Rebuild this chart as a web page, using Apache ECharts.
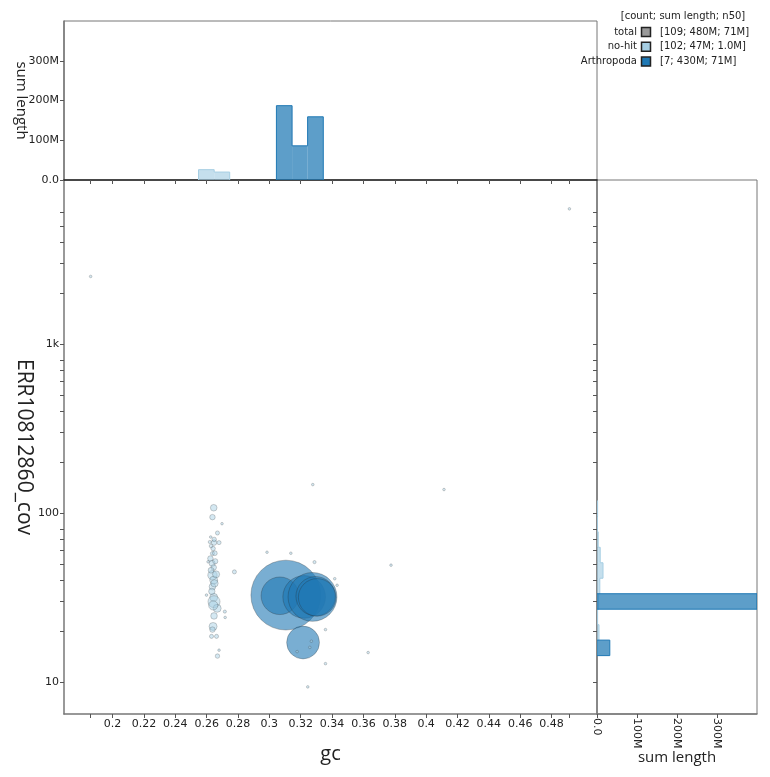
<!DOCTYPE html>
<html>
<head>
<meta charset="utf-8">
<title>blob plot</title>
<script src="https://cdn.jsdelivr.net/npm/echarts@6/dist/echarts.min.js"></script>
<style>
  html, body { margin: 0; padding: 0; background: #fff; }
  #chart { width: 770px; height: 777px; }
</style>
</head>
<body>
<div id="chart"></div>
<script>
// axis ranges
const gcMin = 0.169, gcMax = 0.509;
const covMin = 6.5, covMax = 9330;
const lenMax = 4e8;

// ticks and labels
const gcTicks = [0.186, 0.2, 0.22, 0.24, 0.26, 0.28, 0.3, 0.32, 0.34, 0.36, 0.38, 0.4, 0.42, 0.44, 0.46, 0.48, 0.4914];
const gcLabels = [0.2, 0.22, 0.24, 0.26, 0.28, 0.3, 0.32, 0.34, 0.36, 0.38, 0.4, 0.42, 0.44, 0.46, 0.48];
const covTicks = [10, 20, 30, 40, 50, 60, 70, 80, 100, 200, 300, 400, 500, 600, 700, 800, 1000, 2000, 3000, 4000, 5000, 6000];
const covLabels = [10, 100, 1000];
const lenTicks = [0, 1e8, 2e8, 3e8];

// no-hit contigs (gc, coverage, length in Mb)
const noHitGc = [0.2645, 0.2637, 0.2698, 0.2669, 0.2626, 0.2647, 0.2679, 0.262, 0.2641, 0.2637,
  0.2624, 0.2635, 0.2609, 0.2645, 0.2637, 0.2645, 0.2777, 0.2637, 0.2599, 0.2645,
  0.2647, 0.2667, 0.2716, 0.2718, 0.2647, 0.2641, 0.2637, 0.2631, 0.2663, 0.2679,
  0.2669, 0.2652, 0.2628, 0.2655, 0.265, 0.2633, 0.266, 0.2642, 0.2628, 0.2648,
  0.2985, 0.3137, 0.3288, 0.3417, 0.3432, 0.3358, 0.3268, 0.3258, 0.3177, 0.3358,
  0.363, 0.3277, 0.4114, 0.3776, 0.3245, 0.186, 0.4914];
const noHitCov = [107.7, 94.8, 86.7, 76.4, 72.3, 67, 67, 67.6, 61.8, 57.8,
  54, 50.5, 51.6, 47.8, 43, 40.2, 45, 36.8, 32.8, 31.8,
  30, 27.4, 26.2, 24.2, 24.7, 21.4, 20.5, 18.7, 18.7, 15.5,
  14.3, 58, 46, 52, 38.5, 34.5, 43.5, 28.5, 64, 70,
  58.8, 58, 51.4, 41, 37.5, 20.5, 17.5, 16.1, 15.2, 12.9,
  15, 147.6, 138, 49.3, 9.4, 2510, 6300];
const noHitLen = [1.3, 0.9, 0.2, 0.5, 0.2, 0.9, 0.5, 0.3, 0.6, 0.5,
  0.9, 1.1, 0.2, 0.9, 2.6, 1.9, 0.5, 1.3, 0.2, 1.9,
  4.3, 1.9, 0.3, 0.2, 1.3, 1.9, 0.9, 0.5, 0.5, 0.2,
  0.6, 0.7, 1.0, 0.8, 1.6, 1.2, 1.5, 2.5, 0.4, 0.6,
  0.15, 0.1, 0.3, 0.2, 0.2, 0.2, 0.2, 0.2, 0.15, 0.2,
  0.1, 0.15, 0.1, 0.1, 0.1, 0.1, 0.1];

// Arthropoda contigs
const arthGc = [0.3105, 0.3067, 0.3215, 0.3222, 0.3275, 0.3295, 0.3305];
const arthCov = [32.8, 32.5, 17.2, 32, 32, 32.3, 31.8];
const arthLen = [145, 42, 32, 54, 71, 46, 42];

// histogram bins (sum length in Mb)
const gcBinEdges = [0.2548, 0.2648, 0.2747, 0.2847, 0.2946, 0.3045, 0.3145, 0.3244, 0.3344];
const noHitGcSum = [26, 20, 0, 0, 0, 0, 0, 0];
const arthGcSum = [0, 0, 0, 0, 0, 187, 86, 159];
const covBinEdges = [14.39, 17.77, 21.93, 27.07, 33.42, 41.26, 50.93, 62.87, 77.6, 95.8, 118.3];
const noHitCovSum = [1, 5, 1.5, 4, 7, 15, 8, 3, 1, 1.5];
const arthCovSum = [32, 0, 0, 400, 0, 0, 0, 0, 0, 0];

// legend
const legendNames = ['total', 'no-hit', 'Arthropoda'];
const legendColors = ['#999999', '#a6cee3', '#1f78b4'];
const legendStats = ['[109; 480M; 71M]', '[102; 47M; 1.0M]', '[7; 430M; 71M]'];

const tickFont = 'DejaVu Sans';
const titleFont = 'Open Sans';
const axisGray = '#777';

function lenLabel(v) {
  return v === 0 ? '0.0' : (v / 1e6) + 'M';
}

function covLabel(v) {
  return v >= 1000 ? (v / 1000) + 'k' : String(v);
}

// stepped histogram drawn from bin edges; horizontal = bars grow along x
function histSeries(edges, sums, fill, stroke, xi, yi, horizontal) {
  const data = [];
  for (let i = 0; i < sums.length; i++) {
    if (sums[i] > 0) data.push([edges[i], edges[i + 1], sums[i] * 1e6, i]);
  }
  return {
    type: 'custom',
    xAxisIndex: xi,
    yAxisIndex: yi,
    silent: true,
    clip: true,
    data: data,
    encode: horizontal ? { x: 2, y: [0, 1] } : { x: [0, 1], y: 2 },
    renderItem: function (params, api) {
      const lo = api.value(0), hi = api.value(1), v = api.value(2), i = api.value(3);
      const prev = i > 0 ? sums[i - 1] * 1e6 : 0;
      const next = i < sums.length - 1 ? sums[i + 1] * 1e6 : 0;
      const pt = horizontal
        ? function (b, h) { return api.coord([h, b]); }
        : function (b, h) { return api.coord([b, h]); };
      const a = pt(lo, 0), c = pt(hi, v);
      const outline = [pt(lo, Math.min(prev, v)), pt(lo, v), pt(hi, v), pt(hi, Math.min(next, v))];
      return {
        type: 'group',
        children: [
          {
            type: 'rect',
            shape: {
              x: Math.min(a[0], c[0]), y: Math.min(a[1], c[1]),
              width: Math.abs(c[0] - a[0]), height: Math.abs(c[1] - a[1])
            },
            style: { fill: fill }
          },
          {
            type: 'polyline',
            shape: { points: outline },
            style: { fill: null, stroke: stroke, lineWidth: 1 }
          }
        ]
      };
    }
  };
}

const tickStyle = { color: '#222', fontFamily: tickFont, fontSize: 11 };

const legendGraphics = [{
  type: 'text', x: 683, y: 16,
  style: { text: '[count; sum length; n50]', font: '10px "DejaVu Sans"', fill: '#222',
    textAlign: 'center', textVerticalAlign: 'middle', align: 'center', verticalAlign: 'middle' }
}];
legendNames.forEach(function (name, i) {
  const cy = 32 + i * 14.8;
  legendGraphics.push({
    type: 'text', x: 637, y: cy,
    style: { text: name, font: '10px "DejaVu Sans"', fill: '#222',
      textAlign: 'right', textVerticalAlign: 'middle', align: 'right', verticalAlign: 'middle' }
  });
  legendGraphics.push({
    type: 'rect', shape: { x: 641.5, y: cy - 4.5, width: 9, height: 9 },
    style: { fill: legendColors[i], stroke: '#222', lineWidth: 1.5 }
  });
  legendGraphics.push({
    type: 'text', x: 660, y: cy,
    style: { text: legendStats[i], font: '10px "DejaVu Sans"', fill: '#222',
      textAlign: 'left', textVerticalAlign: 'middle', align: 'left', verticalAlign: 'middle' }
  });
});

const chart = echarts.init(document.getElementById('chart'));
chart.setOption({
  animation: false,
  backgroundColor: '#fff',
  grid: [
    { left: 64, top: 180, width: 533, height: 534, outerBoundsMode: 'none', containLabel: false },
    { left: 64, top: 21, width: 533, height: 159, outerBoundsMode: 'none', containLabel: false,
      show: true, borderColor: axisGray, borderWidth: 1 },
    { left: 597, top: 180, width: 160, height: 534, outerBoundsMode: 'none', containLabel: false,
      show: true, borderColor: axisGray, borderWidth: 1 }
  ],
  xAxis: [
    {
      gridIndex: 0, type: 'value', min: gcMin, max: gcMax,
      name: 'gc', nameLocation: 'middle', nameGap: 30, nameMoveOverlap: false,
      nameTextStyle: { fontFamily: titleFont, fontSize: 20, color: '#222' },
      axisLine: { lineStyle: { color: axisGray, width: 1.5 } },
      axisTick: { customValues: gcTicks, length: 4, lineStyle: { color: '#555' } },
      axisLabel: Object.assign({ customValues: gcLabels, margin: 5,
        formatter: function (v) { return String(Math.round(v * 100) / 100); } }, tickStyle),
      splitLine: { show: false }
    },
    {
      gridIndex: 1, type: 'value', min: gcMin, max: gcMax,
      axisLine: { lineStyle: { color: '#222', width: 1.5 } },
      axisTick: { customValues: gcTicks, length: 4, lineStyle: { color: '#555' } },
      axisLabel: { show: false },
      splitLine: { show: false }
    },
    {
      gridIndex: 2, type: 'value', min: 0, max: lenMax,
      name: 'sum length', nameLocation: 'middle', nameGap: 36, nameMoveOverlap: false,
      nameTextStyle: { fontFamily: titleFont, fontSize: 15, color: '#222' },
      axisLine: { lineStyle: { color: axisGray, width: 1.5 } },
      axisTick: { customValues: lenTicks, length: 4, lineStyle: { color: '#555' } },
      axisLabel: Object.assign({ customValues: lenTicks, rotate: -90, margin: 4, formatter: lenLabel }, tickStyle),
      splitLine: { show: false }
    }
  ],
  yAxis: [
    {
      gridIndex: 0, type: 'log', logBase: 10, min: covMin, max: covMax,
      name: 'ERR10812860_cov', nameLocation: 'middle', nameRotate: -90, nameGap: 30, nameMoveOverlap: false,
      nameTextStyle: { fontFamily: titleFont, fontSize: 21, color: '#222' },
      axisLine: { lineStyle: { color: axisGray, width: 1.5 } },
      axisTick: { customValues: covTicks, length: 4, lineStyle: { color: '#555' } },
      axisLabel: Object.assign({ customValues: covLabels, margin: 5, formatter: covLabel }, tickStyle),
      splitLine: { show: false }
    },
    {
      gridIndex: 1, type: 'value', min: 0, max: lenMax,
      name: 'sum length', nameLocation: 'middle', nameRotate: -90, nameGap: 35, nameMoveOverlap: false,
      nameTextStyle: { fontFamily: titleFont, fontSize: 15, color: '#222' },
      axisLine: { lineStyle: { color: axisGray, width: 1.5 } },
      axisTick: { customValues: lenTicks, length: 4, lineStyle: { color: '#555' } },
      axisLabel: Object.assign({ customValues: lenTicks, margin: 5, formatter: lenLabel }, tickStyle),
      splitLine: { show: false }
    },
    {
      gridIndex: 2, type: 'log', logBase: 10, min: covMin, max: covMax,
      axisLine: { lineStyle: { color: axisGray, width: 1.5 } },
      axisTick: { customValues: covTicks, length: 4, lineStyle: { color: '#555' } },
      axisLabel: { show: false },
      splitLine: { show: false }
    }
  ],
  series: [
    histSeries(gcBinEdges, noHitGcSum, 'rgba(166,206,227,0.65)', '#a6cee3', 1, 1, false),
    histSeries(gcBinEdges, arthGcSum, 'rgba(31,120,180,0.72)', '#1f78b4', 1, 1, false),
    histSeries(covBinEdges, noHitCovSum, 'rgba(166,206,227,0.65)', '#a6cee3', 2, 2, true),
    histSeries(covBinEdges, arthCovSum, 'rgba(31,120,180,0.72)', '#1f78b4', 2, 2, true),
    {
      type: 'scatter', xAxisIndex: 0, yAxisIndex: 0, silent: true,
      data: arthGc.map(function (g, i) { return [g, arthCov[i], arthLen[i]]; }),
      symbolSize: function (v) { return Math.max(2.6, 5.8 * Math.sqrt(v[2])); },
      itemStyle: { color: 'rgba(31,120,180,0.75)', borderColor: 'rgba(40,40,40,0.35)', borderWidth: 1 }
    },
    {
      type: 'scatter', xAxisIndex: 0, yAxisIndex: 0, silent: true,
      data: noHitGc.map(function (g, i) { return [g, noHitCov[i], noHitLen[i]]; }),
      symbolSize: function (v) { return Math.max(2.6, 5.8 * Math.sqrt(v[2])); },
      itemStyle: { color: 'rgba(166,206,227,0.6)', borderColor: 'rgba(40,40,40,0.35)', borderWidth: 0.8 }
    }
  ],
  graphic: legendGraphics
});
</script>
</body>
</html>
